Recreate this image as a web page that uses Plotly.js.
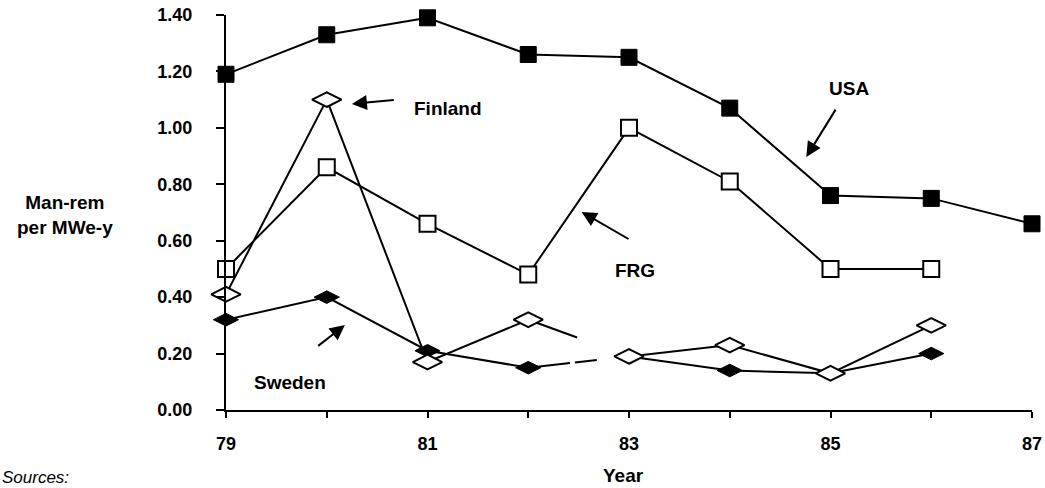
<!DOCTYPE html>
<html>
<head>
<meta charset="utf-8">
<script src="https://cdn.plot.ly/plotly-3.0.1.min.js"></script>
<style>
  html, body { margin: 0; padding: 0; background: #fff; }
  #chart { width: 1045px; height: 488px; }
</style>
</head>
<body>
<div id="chart"></div>
<script>
// ---- data ----
const years      = [79, 80, 81, 82, 83, 84, 85, 86, 87];
const yearLabels = ['79', '', '81', '', '83', '', '85', '', '87'];
const usa     = [1.19, 1.33, 1.39, 1.26, 1.25, 1.07, 0.76, 0.75, 0.66];
const frg     = [0.50, 0.86, 0.66, 0.48, 1.00, 0.81, 0.50, 0.50, null];
const finland = [0.41, 1.10, 0.17, 0.32, 0.19, 0.23, 0.13, 0.30, null];
const sweden  = [0.32, 0.40, 0.21, 0.15, 0.19, 0.14, 0.13, 0.20, null];
// the 82 -> 83 segment of Finland and Sweden is only partly drawn in the source
const gapFrom = 82, gapTo = 83;

const FONT = 'Liberation Sans, Arial, Helvetica, sans-serif';
const BLACK = '#000';

// split a series so that the gap segment is not joined
function withGap(xs, ys) {
  const gx = [], gy = [];
  for (let i = 0; i < xs.length; i++) {
    gx.push(xs[i]); gy.push(ys[i]);
    if (xs[i] === gapFrom) { gx.push(null); gy.push(null); }
  }
  return { x: gx, y: gy };
}
function bridge(ys, dash) {
  const i0 = years.indexOf(gapFrom), i1 = years.indexOf(gapTo);
  return {
    type: 'scatter', mode: 'lines',
    x: [years[i0], years[i1]], y: [ys[i0], ys[i1]],
    line: { color: BLACK, width: 2, dash: dash },
    hoverinfo: 'skip', showlegend: false, cliponaxis: false
  };
}

const fin = withGap(years, finland);
const swe = withGap(years, sweden);

const traces = [
  {
    type: 'scatter', mode: 'lines+markers', name: 'USA',
    x: years, y: usa, cliponaxis: false,
    line: { color: BLACK, width: 2 },
    marker: { symbol: 'square', size: 16, color: BLACK, line: { color: BLACK, width: 1 } }
  },
  {
    type: 'scatter', mode: 'lines+markers', name: 'FRG',
    x: years, y: frg, cliponaxis: false,
    line: { color: BLACK, width: 2 },
    marker: { symbol: 'square', size: 16, color: '#fff', line: { color: BLACK, width: 2 } }
  },
  bridge(sweden, '42px,5px,22px,200px'),
  {
    type: 'scatter', mode: 'lines+markers', name: 'Sweden',
    x: swe.x, y: swe.y, connectgaps: false, cliponaxis: false,
    line: { color: BLACK, width: 2 },
    marker: { symbol: 'diamond-wide', size: 18, color: BLACK, line: { color: BLACK, width: 1 } }
  },
  bridge(finland, '52px,200px'),
  {
    type: 'scatter', mode: 'lines+markers', name: 'Finland',
    x: fin.x, y: fin.y, connectgaps: false, cliponaxis: false,
    line: { color: BLACK, width: 2 },
    marker: { symbol: 'diamond-wide', size: 21, color: '#fff', line: { color: BLACK, width: 2 } }
  }
];

const labelFont = { family: FONT, size: 19, color: BLACK, weight: 'bold' };

function label(text, x, y) {
  return { text: text, x: x, y: y, xref: 'x', yref: 'y', showarrow: false,
           xanchor: 'center', yanchor: 'middle', font: labelFont };
}
function arrow(tipX, tipY, tailX, tailY) {
  return { text: '', x: tipX, y: tipY, ax: tailX, ay: tailY,
           xref: 'x', yref: 'y', axref: 'x', ayref: 'y',
           showarrow: true, arrowhead: 2, arrowsize: 1.5, arrowwidth: 2, arrowcolor: BLACK };
}

const layout = {
  width: 1045, height: 488,
  margin: { l: 226, r: 13, t: 15, b: 78 },
  paper_bgcolor: '#fff', plot_bgcolor: '#fff',
  showlegend: false,
  font: { family: FONT, color: BLACK },
  xaxis: {
    range: [79, 87], tickmode: 'array', tickvals: years, ticktext: yearLabels,
    showgrid: false, zeroline: false, showline: true, linecolor: BLACK, linewidth: 2,
    ticks: 'outside', ticklen: 6, tickwidth: 2, tickcolor: BLACK,
    ticklabelstandoff: 10,
    tickfont: { family: FONT, size: 18, color: BLACK, weight: 'bold' }
  },
  yaxis: {
    range: [0, 1.4], dtick: 0.2, tick0: 0, tickformat: '.2f',
    showgrid: false, zeroline: false, showline: true, linecolor: BLACK, linewidth: 2,
    ticks: 'outside', ticklen: 8, tickwidth: 2, tickcolor: BLACK,
    ticklabelstandoff: 20,
    tickfont: { family: FONT, size: 18, color: BLACK, weight: 'bold' }
  },
  annotations: [
    label('Finland', 81.20, 1.07),
    arrow(80.25, 1.085, 80.68, 1.099),
    label('USA', 85.18, 1.14),
    arrow(84.76, 0.897, 85.06, 1.07),
    label('FRG', 83.06, 0.493),
    arrow(82.53, 0.702, 83.01, 0.603),
    label('Sweden', 79.64, 0.099),
    arrow(80.18, 0.301, 79.90, 0.223),
    { text: 'Man-rem<br>per MWe-y', xref: 'paper', yref: 'paper', x: -0.1998, y: 0.494,
      xanchor: 'center', yanchor: 'middle', showarrow: false, align: 'center', font: labelFont },
    { text: 'Year', xref: 'paper', yref: 'paper', x: 0.4926, y: -0.165,
      xanchor: 'center', yanchor: 'middle', showarrow: false, font: labelFont },
    { text: '<i>Sources:</i>', xref: 'paper', yref: 'paper', x: -0.2804, y: -0.172,
      xanchor: 'left', yanchor: 'middle', showarrow: false,
      font: { family: FONT, size: 17, color: BLACK } }
  ]
};

Plotly.newPlot('chart', traces, layout, { displayModeBar: false, staticPlot: true });
</script>
</body>
</html>
